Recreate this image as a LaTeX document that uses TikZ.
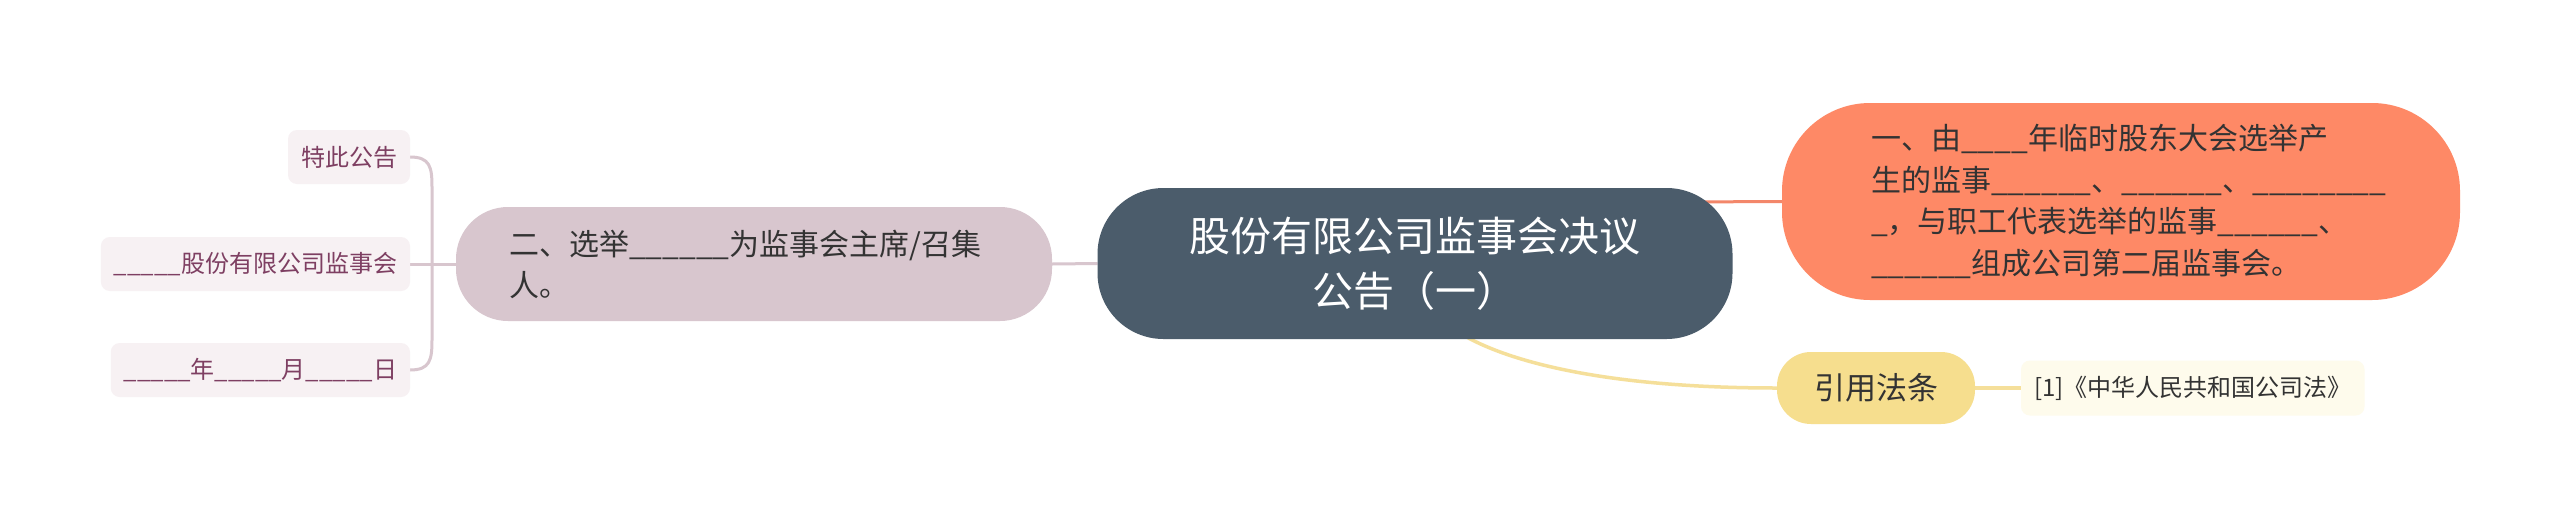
\documentclass[tikz,border=0pt]{standalone}
\usepackage{fontspec}
\setmainfont{Noto Sans CJK SC}
\usetikzlibrary{calc,backgrounds}
\definecolor{rootc}{HTML}{4B5C6B}
\definecolor{orangec}{HTML}{FE8966}
\definecolor{orangeln}{HTML}{F3876A}
\definecolor{mauvec}{HTML}{D8C6CE}
\definecolor{yellowc}{HTML}{F6DE8E}
\definecolor{yellowln}{HTML}{F5DF9A}
\definecolor{leafc}{HTML}{F7F1F3}
\definecolor{leaftext}{HTML}{7E3F62}
\definecolor{refc}{HTML}{FEFBEC}
\definecolor{textc}{HTML}{333333}
\begin{document}
\begin{tikzpicture}[x=1pt,y=-1pt,
  base/.style={inner sep=0pt, outer sep=0pt, align=left},
  rootbox/.style={base, fill=rootc, text=white, minimum width=635pt, minimum height=151pt, rounded corners=66pt, align=center, font=\fontsize{41}{55}\selectfont},
  orangebox/.style={base, fill=orangec, text=textc, minimum width=678pt, minimum height=197pt, text width=500pt, rounded corners=88pt, font=\fontsize{30}{41.7}\selectfont},
  twobox/.style={base, fill=mauvec, text=textc, minimum width=596pt, minimum height=114pt, text width=490pt, rounded corners=52pt, font=\fontsize{30}{41}\selectfont},
  lawbox/.style={base, fill=yellowc, text=textc, minimum width=198pt, minimum height=72pt, rounded corners=34pt, font=\fontsize{31}{36}\selectfont},
  refbox/.style={base, fill=refc, text=textc, inner xsep=13pt, minimum height=55pt, rounded corners=9pt, font=\fontsize{24}{30}\selectfont},
  leafbox/.style={base, fill=leafc, text=leaftext, inner xsep=13pt, minimum height=54pt, rounded corners=9pt, font=\fontsize{24}{28}\selectfont},
  mauveline/.style={draw=mauvec, line width=3pt},
  orangeline/.style={draw=orangeln, line width=3pt},
  yellowline/.style={draw=yellowln, line width=3.5pt},
]
\useasboundingbox (0,0) rectangle (2560,528);

\node[rootbox] (root) at (1415,263.5) {股份有限公司监事会决议\\公告（一）};
\node[orangebox] (one) at (2121,201.5) {一、由\_\_\_\_年临时股东大会选举产\\生的监事\_\_\_\_\_\_、\_\_\_\_\_\_、\_\_\_\_\_\_\_\_\\\_，与职工代表选举的监事\_\_\_\_\_\_、\\\_\_\_\_\_\_组成公司第二届监事会。};
\node[twobox] (two) at (754,264) {二、选举\_\_\_\_\_\_为监事会主席/召集\\人。};
\node[lawbox] (law) at (1876,388) {引用法条};
\node[refbox, anchor=west] (ref) at (2021,388) {[1]《中华人民共和国公司法》};
\node[leafbox, anchor=east] (l1) at (410,157) {特此公告};
\node[leafbox, anchor=east] (l2) at (410,264) {\_\_\_\_\_股份有限公司监事会};
\node[leafbox, anchor=east] (l3) at (410,370) {\_\_\_\_\_年\_\_\_\_\_月\_\_\_\_\_日};
\coordinate (j) at ($(l2.east)+(22,0)$);

\begin{scope}[on background layer]
\fill[white] (0,0) rectangle (2560,528);
\draw[mauveline] (two.east) -- (root.west);
\draw[orangeline] ($(root.north east)+(-50,14)$) -- (one.west);
\draw[yellowline] ($(root.south)+(40,-9)$) .. controls +(45,30) and +(-177,0) .. (law.west);
\draw[yellowline] (law.east) -- (ref.west);
\draw[mauveline] (two.west) -- (l2.east);
\draw[mauveline] (l1.east) .. controls +(20,0) and +(0,-20) .. ($(l1.east)+(22,30)$) -- (j) -- ($(l3.east)+(22,-30)$) .. controls +(0,20) and +(20,0) .. (l3.east);
\end{scope}
\end{tikzpicture}
\end{document}
